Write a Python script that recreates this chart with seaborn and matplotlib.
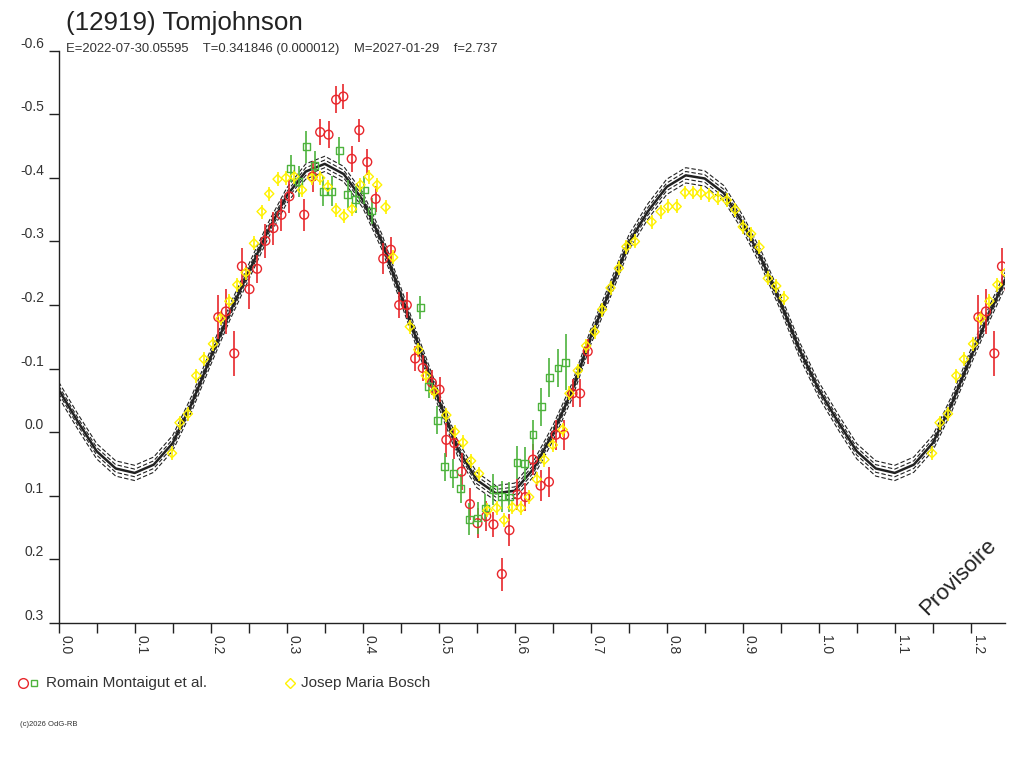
import numpy as np
import pandas as pd
import seaborn as sns
import matplotlib.pyplot as plt
from matplotlib.lines import Line2D

sns.set_theme(style="ticks")
plt.rcParams['font.family'] = ['Liberation Sans', 'DejaVu Sans']
plt.rcParams['axes.unicode_minus'] = False

# model light curve, read every 0.025 in phase (0 .. 1)
model_phase = [0.000, 0.025, 0.050, 0.075, 0.100, 0.125, 0.150, 0.175, 0.200, 0.225,
               0.250, 0.275, 0.300, 0.325, 0.350, 0.375, 0.400, 0.425, 0.450, 0.475,
               0.500, 0.525, 0.550, 0.575, 0.600, 0.625, 0.650, 0.675, 0.700, 0.725,
               0.750, 0.775, 0.800, 0.825, 0.850, 0.875, 0.900, 0.925, 0.950, 0.975, 1.000]
model_mag = [-0.067, -0.017, 0.030, 0.057, 0.064, 0.051, 0.017, -0.045, -0.118, -0.188,
             -0.252, -0.316, -0.372, -0.410, -0.422, -0.406, -0.365, -0.300, -0.216, -0.132,
             -0.051, 0.026, 0.075, 0.096, 0.092, 0.057, 0.002, -0.064, -0.150, -0.222,
             -0.298, -0.347, -0.386, -0.404, -0.399, -0.376, -0.329, -0.271, -0.203, -0.129, -0.067]
model_offsets = [-0.012, -0.006, 0.006, 0.012]

# Romain Montaigut et al. (session 1, red circles)
red_phase = [0.210, 0.220, 0.231, 0.241, 0.251, 0.261, 0.272, 0.2825, 0.293, 0.3035,
             0.323, 0.334, 0.344, 0.355, 0.365, 0.3745, 0.3855, 0.3955, 0.406, 0.417,
             0.427, 0.437, 0.448, 0.458, 0.469, 0.479, 0.491, 0.501, 0.510, 0.5205,
             0.530, 0.541, 0.551, 0.5625, 0.572, 0.583, 0.593, 0.6035, 0.614, 0.624,
             0.634, 0.645, 0.654, 0.665, 0.676, 0.686, 0.696]
red_mag = [-0.181, -0.190, -0.124, -0.261, -0.225, -0.257, -0.301, -0.321, -0.342, -0.371,
           -0.342, -0.402, -0.472, -0.468, -0.523, -0.528, -0.430, -0.475, -0.425, -0.367,
           -0.273, -0.287, -0.200, -0.200, -0.116, -0.101, -0.078, -0.067, 0.012, 0.017,
           0.062, 0.113, 0.143, 0.132, 0.145, 0.223, 0.154, 0.098, 0.102, 0.043,
           0.084, 0.078, 0.004, 0.004, -0.061, -0.061, -0.127]
red_err = [0.035, 0.035, 0.035, 0.029, 0.031, 0.022, 0.027, 0.026, 0.025, 0.026,
           0.025, 0.024, 0.021, 0.021, 0.021, 0.020, 0.020, 0.018, 0.020, 0.021,
           0.024, 0.020, 0.020, 0.020, 0.020, 0.020, 0.020, 0.020, 0.027, 0.025,
           0.029, 0.025, 0.024, 0.024, 0.020, 0.026, 0.025, 0.024, 0.022, 0.025,
           0.024, 0.024, 0.024, 0.024, 0.022, 0.022, 0.020]

# Romain Montaigut et al. (session 2, green squares)
green_phase = [0.305, 0.316, 0.326, 0.337, 0.348, 0.359, 0.369, 0.380, 0.391, 0.402,
               0.412, 0.476, 0.487, 0.498, 0.508, 0.519, 0.529, 0.540, 0.551, 0.561,
               0.572, 0.583, 0.593, 0.603, 0.613, 0.624, 0.635, 0.6455, 0.657, 0.667]
green_mag = [-0.415, -0.394, -0.449, -0.419, -0.379, -0.379, -0.443, -0.374, -0.366, -0.381,
             -0.348, -0.196, -0.072, -0.019, 0.054, 0.065, 0.088, 0.137, 0.135, 0.119,
             0.090, 0.101, 0.102, 0.048, 0.049, 0.004, -0.040, -0.086, -0.101, -0.110]
green_err = [0.021, 0.024, 0.025, 0.024, 0.024, 0.024, 0.021, 0.022, 0.022, 0.022,
             0.020, 0.018, 0.018, 0.022, 0.022, 0.023, 0.023, 0.025, 0.025, 0.022,
             0.024, 0.024, 0.024, 0.026, 0.026, 0.024, 0.030, 0.031, 0.030, 0.044]

# Josep Maria Bosch (yellow diamonds)
bosch_phase = [0.149, 0.159, 0.170, 0.181, 0.191, 0.203, 0.213, 0.2245, 0.235, 0.246,
               0.257, 0.267, 0.277, 0.288, 0.299, 0.310, 0.320, 0.333, 0.344, 0.354,
               0.365, 0.375, 0.386, 0.397, 0.408, 0.419, 0.430, 0.440, 0.462, 0.473,
               0.483, 0.494, 0.510, 0.521, 0.532, 0.5425, 0.553, 0.564, 0.576, 0.586,
               0.597, 0.608, 0.619, 0.629, 0.639, 0.650, 0.663, 0.672, 0.683, 0.694,
               0.705, 0.715, 0.726, 0.737, 0.747, 0.758, 0.780, 0.792, 0.802, 0.813,
               0.824, 0.835, 0.845, 0.856, 0.867, 0.879, 0.890, 0.900, 0.911, 0.922,
               0.933, 0.944, 0.954]
bosch_mag = [0.033, -0.015, -0.029, -0.089, -0.115, -0.139, -0.179, -0.206, -0.232, -0.251,
             -0.297, -0.347, -0.375, -0.398, -0.400, -0.402, -0.381, -0.400, -0.400, -0.386,
             -0.350, -0.340, -0.351, -0.389, -0.402, -0.389, -0.354, -0.275, -0.166, -0.130,
             -0.089, -0.064, -0.027, -0.001, 0.016, 0.045, 0.065, 0.123, 0.119, 0.138,
             0.118, 0.119, 0.102, 0.074, 0.043, 0.020, -0.004, -0.061, -0.097, -0.136,
             -0.158, -0.193, -0.227, -0.258, -0.292, -0.300, -0.331, -0.347, -0.355, -0.355,
             -0.377, -0.377, -0.376, -0.373, -0.368, -0.365, -0.350, -0.323, -0.312, -0.291,
             -0.242, -0.230, -0.211]
bosch_err = 0.011

x_ticks = [0.0, 0.1, 0.2, 0.3, 0.4, 0.5, 0.6, 0.7, 0.8, 0.9, 1.0, 1.1, 1.2]
y_ticks = [-0.6, -0.5, -0.4, -0.3, -0.2, -0.1, 0.0, 0.1, 0.2, 0.3]

RED = "#e8262b"
GREEN = "#4db33d"
YELLOW = "#fff200"
CURVE = "#222222"
TXT = "#333333"


def wrap(phase, mag, extra=0.28):
    # phases are plotted from 0 to ~1.25: repeat the start of the cycle after 1
    df = pd.DataFrame({"phase": phase, "mag": mag})
    more = df[df["phase"] < extra].copy()
    more["phase"] += 1.0
    return pd.concat([df, more], ignore_index=True)


fig = plt.figure(figsize=(10.24, 7.68), dpi=100)
ax = fig.add_axes([58.7 / 1024, 1 - 623 / 768, (1005 - 58.7) / 1024, (623 - 50.7) / 768])

model = wrap(model_phase[:-1], model_mag[:-1], extra=0.3)
for off in model_offsets:
    sns.lineplot(x=model["phase"], y=model["mag"] + off, ax=ax, color=CURVE,
                 linewidth=0.8, linestyle=(0, (4, 2)), estimator=None, sort=True, zorder=1)
sns.lineplot(x=model["phase"], y=model["mag"], ax=ax, color=CURVE,
             linewidth=1.8, estimator=None, sort=True, zorder=1)

series = [
    (red_phase, red_mag, red_err, RED, "o", 40),
    (green_phase, green_mag, green_err, GREEN, "s", 24),
    (bosch_phase, bosch_mag, [bosch_err] * len(bosch_phase), YELLOW, "D", 22),
]
for ph, mg, er, col, mk, sz in series:
    d = pd.DataFrame({"phase": ph, "mag": mg, "err": er})
    more = d[d["phase"] < 0.28].copy()
    more["phase"] += 1.0
    d = pd.concat([d, more], ignore_index=True)
    ax.errorbar(d["phase"], d["mag"], yerr=d["err"], fmt="none", ecolor=col,
                elinewidth=1.2, capsize=0, zorder=2)
    sns.scatterplot(data=d, x="phase", y="mag", ax=ax, marker=mk, s=sz,
                    facecolor="none", edgecolor=col, linewidth=1.0, zorder=3)

ax.set_xlim(0, 1.245)
ax.set_ylim(0.3, -0.6)
ax.set_xlabel("")
ax.set_ylabel("")
sns.despine(ax=ax)
for s in ["left", "bottom"]:
    ax.spines[s].set_color("#222222")
    ax.spines[s].set_linewidth(1.0)

ax.set_xticks(x_ticks)
ax.set_xticks(np.arange(0.05, 1.25, 0.1), minor=True)
ax.set_xticklabels(["%.1f" % v for v in x_ticks], rotation=-90, ha="left", va="top",
                   fontsize=10, color=TXT)
ax.set_yticks(y_ticks)
ax.set_yticklabels(["%.1f" % v if v != 0 else "0.0" for v in y_ticks], va="bottom",
                   fontsize=10, color=TXT)
ax.tick_params(axis="both", which="both", direction="out", length=7.5, width=1.0,
               color="#222222")
ax.tick_params(axis="x", which="both", pad=1)
ax.tick_params(axis="y", pad=3)
ax.grid(False)

fig.text(66 / 1024, 1 - 30 / 768, "(12919) Tomjohnson", fontsize=18.7, color="#222222",
         ha="left", va="baseline")
fig.text(66 / 1024, 1 - 52 / 768,
         "E=2022-07-30.05595    T=0.341846 (0.000012)    M=2027-01-29    f=2.737",
         fontsize=9.4, color=TXT, ha="left", va="baseline")

# legend
ly = 1 - 683 / 768
fig.add_artist(Line2D([23 / 1024], [ly], marker="o", markersize=7, mfc="none", mec=RED,
                      mew=1.0, linestyle="none", transform=fig.transFigure))
fig.add_artist(Line2D([34 / 1024], [ly], marker="s", markersize=5, mfc="none", mec=GREEN,
                      mew=1.0, linestyle="none", transform=fig.transFigure))
fig.text(46 / 1024, ly, "Romain Montaigut et al.", fontsize=11, color=TXT,
         ha="left", va="center")
fig.add_artist(Line2D([290 / 1024], [ly], marker="D", markersize=5, mfc="none", mec=YELLOW,
                      mew=1.0, linestyle="none", transform=fig.transFigure))
fig.text(301 / 1024, ly, "Josep Maria Bosch", fontsize=11, color=TXT,
         ha="left", va="center")

fig.text(20 / 1024, 1 - 725 / 768, "(c)2026 OdG-RB", fontsize=5.5, color=TXT,
         ha="left", va="center")
fig.text(958 / 1024, 1 - 577 / 768, "Provisoire", fontsize=16, color="#222222",
         rotation=45, ha="center", va="center")

fig.savefig("out.png", dpi=100, facecolor="white")
